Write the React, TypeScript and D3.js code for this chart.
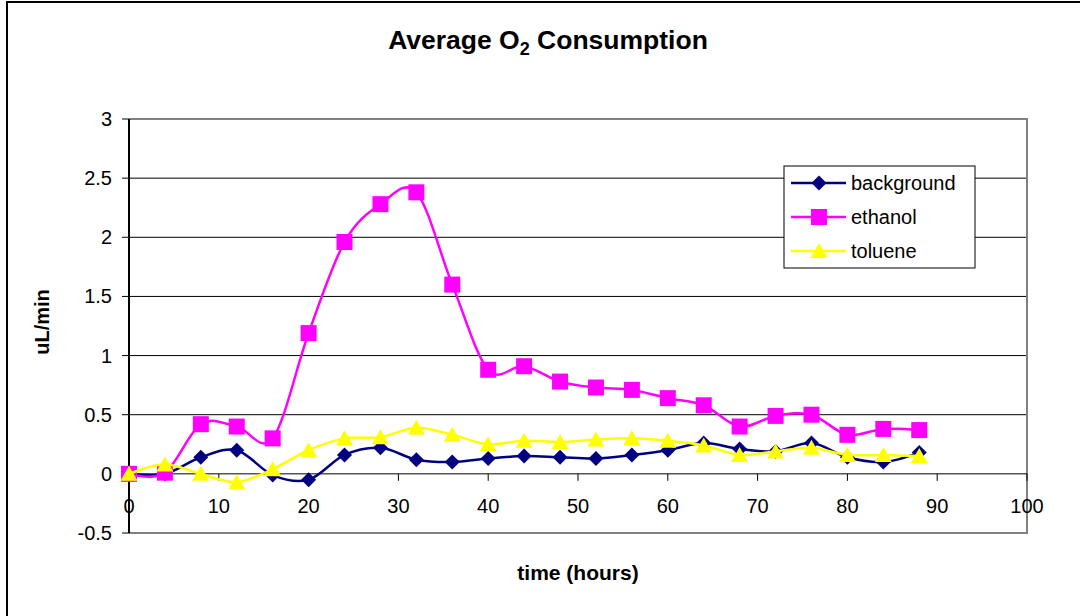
import * as d3 from 'd3';

const hours = [0, 4, 8, 12, 16, 20, 24, 28, 32, 36, 40, 44, 48, 52, 56, 60, 64, 68, 72, 76, 80, 84, 88];
const background = [0, 0.0, 0.14, 0.2, -0.01, -0.05, 0.16, 0.22, 0.12, 0.1, 0.13, 0.15, 0.14, 0.13, 0.16, 0.2, 0.26, 0.21, 0.19, 0.26, 0.14, 0.1, 0.18];
const ethanol = [0, 0.01, 0.42, 0.4, 0.3, 1.19, 1.96, 2.28, 2.38, 1.6, 0.88, 0.91, 0.78, 0.73, 0.71, 0.64, 0.58, 0.4, 0.49, 0.5, 0.33, 0.38, 0.37];
const toluene = [0, 0.08, 0.0, -0.07, 0.04, 0.2, 0.3, 0.31, 0.39, 0.33, 0.25, 0.28, 0.27, 0.29, 0.3, 0.28, 0.24, 0.16, 0.19, 0.22, 0.16, 0.16, 0.15];

const xTicks = [0, 10, 20, 30, 40, 50, 60, 70, 80, 90, 100];
const yTicks = [-0.5, 0, 0.5, 1, 1.5, 2, 2.5, 3];

const series = [
  { name: 'background', values: background, color: '#000080', marker: 'diamond' },
  { name: 'ethanol', values: ethanol, color: '#ff00ff', marker: 'square' },
  { name: 'toluene', values: toluene, color: '#ffff00', marker: 'triangle' },
];

const W = 1080;
const H = 616;
const left = 129;
const right = 1027;
const top = 119;
const bottom = 533;

const font = 'Liberation Sans, Arial, sans-serif';

function markerPath(type: string, x: number, y: number) {
  if (type === 'diamond') return `M${x},${y - 7.5}L${x + 7.5},${y}L${x},${y + 7.5}L${x - 7.5},${y}Z`;
  if (type === 'square') return `M${x - 8},${y - 8}h16v16h-16Z`;
  return `M${x},${y - 8}L${x + 8.5},${y + 7}L${x - 8.5},${y + 7}Z`;
}

export default function App() {
  const x = d3.scaleLinear().domain([0, 100]).range([left, right]);
  const y = d3.scaleLinear().domain([-0.5, 3]).range([bottom, top]);

  const line = d3
    .line<number>()
    .x((_, i) => x(hours[i]))
    .y((d) => y(d))
    .curve(d3.curveCardinal.tension(0));

  const y0 = y(0);

  return (
    <svg width={W} height={H} style={{ position: 'absolute', left: 0, top: 0, background: '#fff' }}>
      <rect x={7} y={2} width={W + 20} height={H + 20} fill="#fff" stroke="#000" strokeWidth={2} />

      <text x={548} y={49} textAnchor="middle" fontFamily={font} fontWeight="bold" fontSize={26.5}>
        Average O<tspan fontSize={18} dy={6}>2</tspan>
        <tspan dy={-6}> Consumption</tspan>
      </text>

      {/* gridlines */}
      {yTicks
        .filter((t) => t !== 3 && t !== -0.5 && t !== 0)
        .map((t) => (
          <line key={t} x1={left} x2={right} y1={y(t)} y2={y(t)} stroke="#000" strokeWidth={1} />
        ))}

      {/* plot border */}
      <path d={`M${left},${top}H${right}V${bottom}H${left}`} fill="none" stroke="#808080" strokeWidth={2} />

      {/* y axis */}
      <line x1={left} x2={left} y1={top} y2={bottom} stroke="#000" strokeWidth={2} />
      {yTicks.map((t) => (
        <g key={t}>
          <line x1={left - 7} x2={left} y1={y(t)} y2={y(t)} stroke="#000" strokeWidth={1} />
          <text x={112} y={y(t)} dy="0.35em" textAnchor="end" fontFamily={font} fontSize={20}>
            {t}
          </text>
        </g>
      ))}

      {/* x axis at zero */}
      <line x1={left} x2={right} y1={y0} y2={y0} stroke="#000" strokeWidth={1} />
      {xTicks.map((t) => (
        <g key={t}>
          <line x1={x(t)} x2={x(t)} y1={y0} y2={y0 + 7} stroke="#000" strokeWidth={1} />
          <text x={x(t)} y={y0 + 39} textAnchor="middle" fontFamily={font} fontSize={20}>
            {t}
          </text>
        </g>
      ))}

      <text
        transform={`translate(49,${(top + bottom) / 2 - 4}) rotate(-90)`}
        textAnchor="middle"
        fontFamily={font}
        fontWeight="bold"
        fontSize={20}
      >
        uL/min
      </text>
      <text x={578} y={580} textAnchor="middle" fontFamily={font} fontWeight="bold" fontSize={21}>
        time (hours)
      </text>

      {/* series */}
      {series.map((s) => (
        <g key={s.name}>
          <path d={line(s.values) ?? ''} fill="none" stroke={s.color} strokeWidth={2.5} />
          {s.values.map((v, i) => (
            <path key={i} d={markerPath(s.marker, x(hours[i]), y(v))} fill={s.color} />
          ))}
        </g>
      ))}

      {/* legend */}
      <rect x={784} y={166} width={191} height={102} fill="#fff" stroke="#000" strokeWidth={1} />
      {series.map((s, i) => {
        const ly = 183 + i * 34;
        return (
          <g key={s.name}>
            <line x1={791} x2={846} y1={ly} y2={ly} stroke={s.color} strokeWidth={2.5} />
            <path d={markerPath(s.marker, 819, ly)} fill={s.color} />
            <text x={851} y={ly} dy="0.35em" fontFamily={font} fontSize={20}>
              {s.name}
            </text>
          </g>
        );
      })}
    </svg>
  );
}
